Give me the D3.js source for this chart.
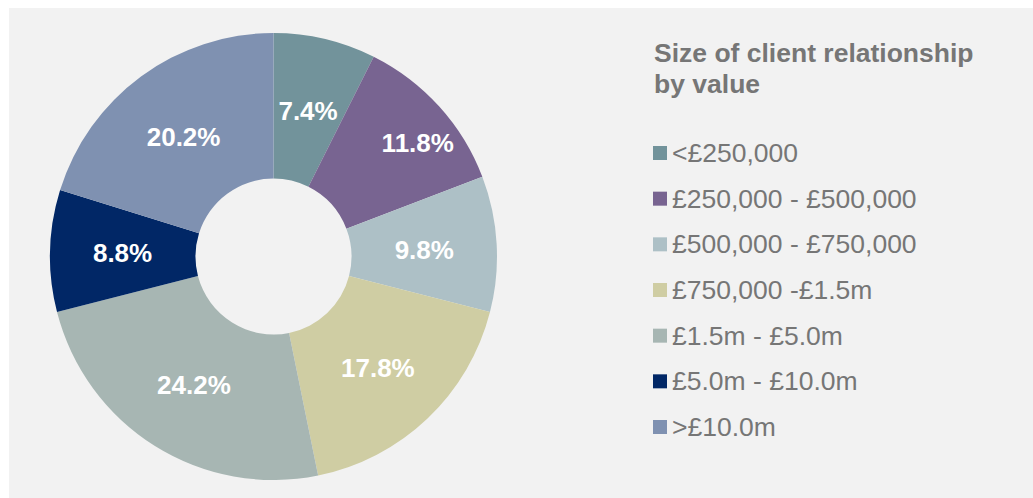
<!DOCTYPE html>
<html lang="en">
<head>
    <meta charset="UTF-8">
    <title>Size of client relationship by value</title>
    <style>
        body {
            margin: 0;
            background-color: #ffffff;
            font-family: "Liberation Sans", Arial, sans-serif;
        }
        svg { display: block; }
    </style>
</head>
<body>
<div id="chart"></div>

<script src="https://d3js.org/d3.v7.min.js"></script>
<script>
    // Chart data
    const categories = ["<£250,000", "£250,000 - £500,000", "£500,000 - £750,000",
        "£750,000 -£1.5m", "£1.5m - £5.0m", "£5.0m - £10.0m", ">£10.0m"];
    const shares = [7.4, 11.8, 9.8, 17.8, 24.2, 8.8, 20.2];
    const titleLines = ["Size of client relationship", "by value"];

    const colors = ["#72939b", "#786491", "#adc0c6", "#cfcda3", "#a7b6b3", "#012766", "#7f91b1"];

    const W = 1033, H = 498;
    const cx = 273.5, cy = 256.5;
    const outerR = 223.5, innerR = 78, labelR = 150;

    const svg = d3.select("#chart")
        .append("svg")
        .attr("width", W)
        .attr("height", H);

    // gray panel behind the chart
    svg.append("rect")
        .attr("x", 9)
        .attr("y", 8)
        .attr("width", W - 9)
        .attr("height", H - 8)
        .attr("fill", "#f2f2f2");

    const pie = d3.pie().sort(null).value(d => d);
    const arcs = pie(shares);

    const arc = d3.arc().innerRadius(innerR).outerRadius(outerR);
    const labelArc = d3.arc().innerRadius(labelR).outerRadius(labelR);

    const g = svg.append("g")
        .attr("transform", `translate(${cx},${cy})`);

    g.selectAll("path.slice")
        .data(arcs)
        .enter().append("path")
        .attr("class", "slice")
        .attr("d", arc)
        .attr("fill", (d, i) => colors[i]);

    // Excel pushed the 11.8% label out a bit
    const labelNudge = [[0, 0], [33, -13], [1, 2], [1, 3], [0, 1], [-1, 0], [-1, 1]];

    g.selectAll("text.pct")
        .data(arcs)
        .enter().append("text")
        .attr("class", "pct")
        .attr("x", (d, i) => labelArc.centroid(d)[0] + labelNudge[i][0])
        .attr("y", (d, i) => labelArc.centroid(d)[1] + labelNudge[i][1])
        .attr("dy", "0.35em")
        .attr("text-anchor", "middle")
        .style("fill", "#ffffff")
        .style("font-size", "26px")
        .style("font-weight", "bold")
        .text(d => d.data.toFixed(1) + "%");

    // title
    svg.append("g")
        .selectAll("text")
        .data(titleLines)
        .enter().append("text")
        .attr("x", 654)
        .attr("y", (d, i) => 62 + i * 31)
        .style("fill", "#767676")
        .style("font-size", "26.5px")
        .style("font-weight", "bold")
        .text(d => d);

    // legend
    const rowY = d3.scalePoint()
        .domain(categories)
        .range([162, 436]);

    const legend = svg.append("g")
        .selectAll("g")
        .data(categories)
        .enter().append("g")
        .attr("transform", d => `translate(0,${rowY(d)})`);

    legend.append("rect")
        .attr("x", 653)
        .attr("y", -16)
        .attr("width", 14)
        .attr("height", 14)
        .attr("fill", (d, i) => colors[i]);

    legend.append("text")
        .attr("x", 672)
        .attr("y", 0)
        .style("fill", "#767676")
        .style("font-size", "26.5px")
        .text(d => d);
</script>
</body>
</html>
